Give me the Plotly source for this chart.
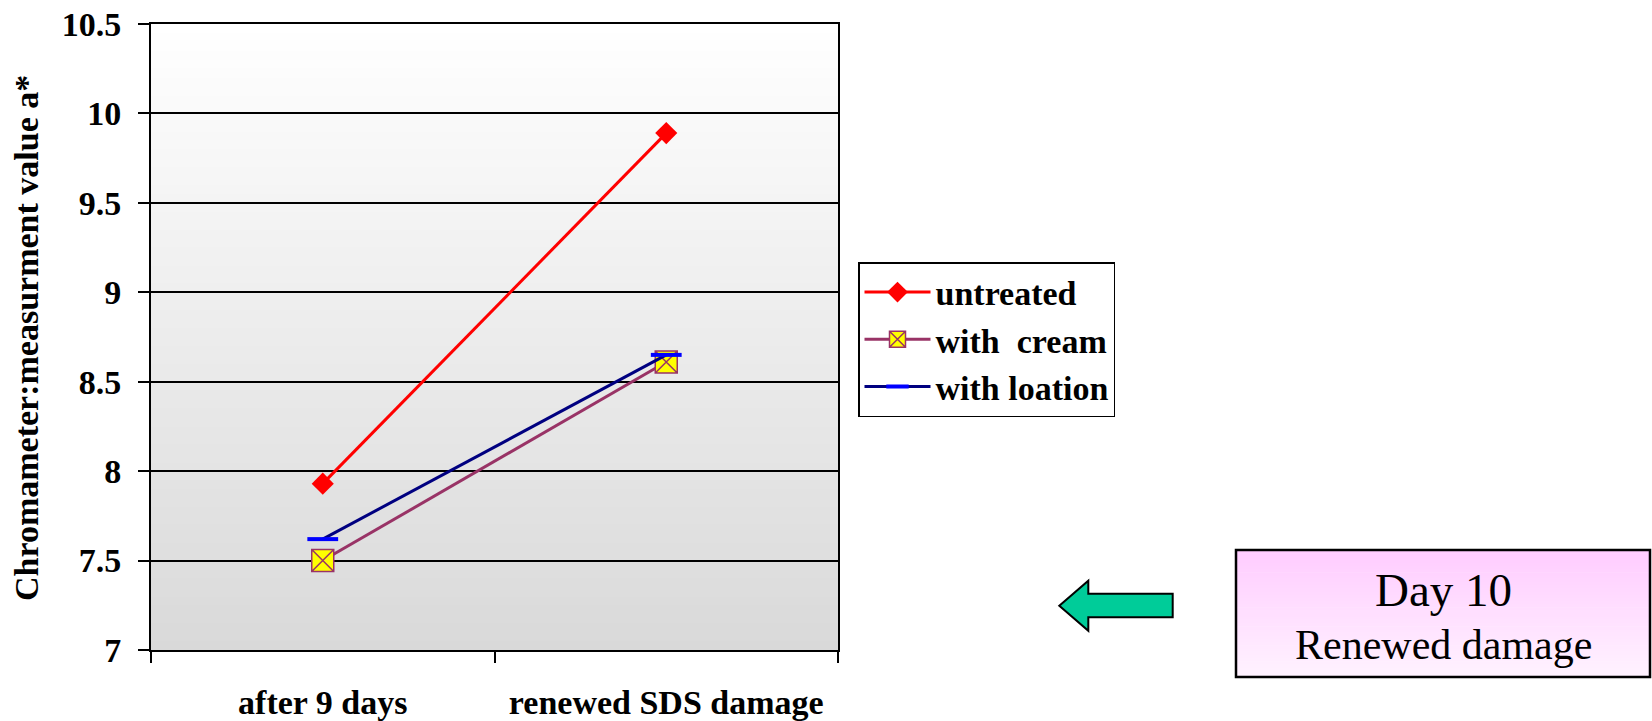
import plotly.graph_objects as go

# ---- data ----
categories = ["after 9 days", "renewed SDS damage"]
untreated = [7.93, 9.89]
with_cream = [7.50, 8.61]
with_lotion = [7.62, 8.65]
series_names = ["untreated", "with  cream", "with loation"]
y_ticks = [7, 7.5, 8, 8.5, 9, 9.5, 10, 10.5]
y_tick_labels = ["7", "7.5", "8", "8.5", "9", "9.5", "10", "10.5"]

# ---- geometry (pixels) ----
W, H = 1652, 721
L, R, T, B = 151, 838, 24, 650   # plot area
FONT = "Liberation Serif"


def px(x):
    return (x - L) / (R - L)


def py(y):
    return (B - y) / (B - T)


fig = go.Figure()

fig.add_trace(go.Scatter(
    x=categories, y=untreated, name=series_names[0], mode="lines+markers",
    line=dict(color="#ff0000", width=3),
    marker=dict(symbol="diamond", size=17, color="#ff0000"),
    legendgroup="a",
))
fig.add_trace(go.Scatter(
    x=categories, y=with_cream, name=series_names[1], mode="lines+markers",
    line=dict(color="#993366", width=3),
    marker=dict(symbol="square-x", size=22, color="#ffff00",
                line=dict(color="#993366", width=1.5)),
    legendgroup="b",
))
fig.add_trace(go.Scatter(
    x=categories, y=with_lotion, name=series_names[2], mode="lines+markers",
    line=dict(color="#000080", width=3),
    marker=dict(symbol="line-ew", size=22, color="#0000ff",
                line=dict(color="#0000ff", width=4)),
    legendgroup="c",
))

shapes = []
# plot-area gradient background
n = 70
for i in range(n):
    t = (i + 0.5) / n
    g = int(round(217 + (255 - 217) * t))
    shapes.append(dict(type="rect", xref="x domain", yref="y domain",
                       x0=0, x1=1, y0=i / n, y1=min(1.0, (i + 1) / n + 0.002),
                       fillcolor=f"rgb({g},{g},{g})", line=dict(width=0),
                       layer="below"))

# pink gradient box
bx0, bx1, by0, by1 = 1236, 1650, 550, 677
m = 40
for i in range(m):
    t = (i + 0.5) / m
    gg = int(round(204 + (242 - 204) * t))
    ya = by0 + (by1 - by0) * i / m
    yb = by0 + (by1 - by0) * (i + 1) / m + 0.6
    shapes.append(dict(type="rect", xref="paper", yref="paper",
                       x0=px(bx0), x1=px(bx1), y0=py(yb), y1=py(ya),
                       fillcolor=f"rgb(255,{gg},255)", line=dict(width=0)))
shapes.append(dict(type="rect", xref="paper", yref="paper",
                   x0=px(bx0), x1=px(bx1), y0=py(by1), y1=py(by0),
                   line=dict(color="black", width=2.5)))

# arrow
pts = [(1059.3, 605.7), (1088.3, 580.7), (1088.3, 593.7), (1172.7, 593.7),
       (1172.7, 617.3), (1088.3, 617.3), (1088.3, 630.7)]
path = "M " + " L ".join(f"{px(a):.5f},{py(b):.5f}" for a, b in pts) + " Z"
shapes.append(dict(type="path", xref="paper", yref="paper", path=path,
                   fillcolor="#00cc99", line=dict(color="black", width=2)))

annotations = [
    dict(text="<b>Chromameter:measurment value a*</b>", xref="paper", yref="paper",
         x=px(26), y=py(338), textangle=-90, showarrow=False,
         xanchor="center", yanchor="middle",
         font=dict(family=FONT, size=34, color="black")),
    dict(text="Day 10", xref="paper", yref="paper", x=px(1443), y=py(590),
         showarrow=False, xanchor="center", yanchor="middle",
         font=dict(family=FONT, size=47, color="black")),
    dict(text="Renewed damage", xref="paper", yref="paper", x=px(1443), y=py(645),
         showarrow=False, xanchor="center", yanchor="middle",
         font=dict(family=FONT, size=42, color="black")),
]

fig.update_layout(
    width=W, height=H,
    margin=dict(l=L, r=W - R, t=T, b=H - B, pad=0, autoexpand=False),
    paper_bgcolor="white", plot_bgcolor="rgba(0,0,0,0)",
    font=dict(family=FONT, color="black"),
    shapes=shapes, annotations=annotations,
    showlegend=True,
    legend=dict(x=px(858), y=py(262), xanchor="left", yanchor="top",
                bgcolor="white", bordercolor="black", borderwidth=1.5,
                font=dict(family=FONT, size=34, color="black", weight="bold"),
                traceorder="grouped", tracegroupgap=0, itemwidth=66),
)

fig.update_xaxes(
    type="category", range=[-0.5, 1.5], tickson="boundaries", automargin=False,
    showline=True, linecolor="black", linewidth=2, mirror=True,
    ticks="outside", ticklen=11, tickwidth=2, tickcolor="black",
    showgrid=False, ticklabelstandoff=21,
    tickfont=dict(family=FONT, size=34, color="black", weight="bold"),
)
fig.update_yaxes(
    range=[7, 10.5], tickvals=y_ticks, ticktext=y_tick_labels, automargin=False,
    showline=True, linecolor="black", linewidth=2, mirror=True,
    ticks="outside", ticklen=11, tickwidth=2, tickcolor="black",
    showgrid=True, gridcolor="black", gridwidth=1.7, zeroline=False,
    ticklabelstandoff=10,
    tickfont=dict(family=FONT, size=34, color="black", weight="bold"),
)

fig.write_html(
    "out.html",
    config={"displayModeBar": False},
    post_script="document.body.style.margin='0';document.body.style.overflow='hidden';",
)
